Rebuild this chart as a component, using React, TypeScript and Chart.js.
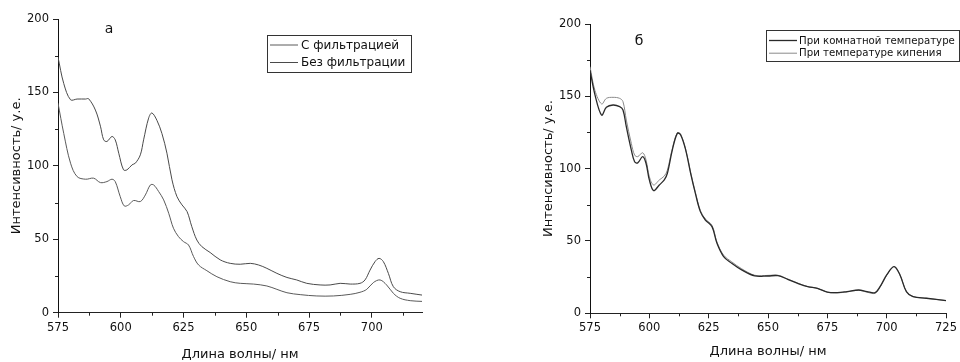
import React, { useEffect, useRef } from "react";
import { Chart, registerables } from "chart.js";

Chart.register(...registerables);

// ---------- Panel "а" data ----------
const wavelengthNoFilter = [575, 577.3, 580, 582.6, 586, 587.2, 589.9, 591.9, 593.2, 594.5, 596.5, 597.8, 599.2, 601.1, 602.5, 604.5, 605.8, 607.8, 609.1, 611.1, 612.4, 614.4, 616.4, 618.4, 620.4, 622.4, 624.4, 626.4, 628.3, 630.3, 632.3, 635.6, 639.6, 643.6, 647.6, 651.6, 654.9, 658.2, 662.2, 666.2, 670.1, 674.1, 679.4, 683.4, 687.4, 691.4, 695.3, 697.3, 699.3, 701.3, 702.9, 704.6, 706.6, 708.6, 711.3, 715.3, 720];
const intensityNoFilter = [174, 156, 145, 145.5, 145.5, 145.7, 138, 127, 117.7, 116.6, 120, 117.7, 108.6, 97.3, 97.3, 100.7, 101.8, 107.5, 117.7, 132.5, 136, 131, 122, 108.6, 90.5, 79, 73.4, 68.9, 58.6, 49.5, 45, 41, 36, 33.6, 33, 33.6, 32.5, 30.2, 26.8, 24, 22.3, 20, 18.9, 18.9, 20, 19.5, 20, 22.3, 29, 34.8, 37, 34.8, 26.8, 17.7, 14.3, 13.2, 12];

const wavelengthWithFilter = [575, 577.3, 580, 582.6, 586, 589.2, 591.9, 594.5, 596.5, 597.8, 599.8, 601.4, 603.1, 605.1, 607.8, 609.8, 611.8, 613.1, 615.1, 617.1, 619.1, 621, 623, 625, 627, 629, 631, 634.3, 638.3, 643.6, 647.6, 652.9, 658.2, 662.2, 666.2, 671.5, 678.1, 684.7, 691.4, 695.3, 698, 700.6, 703.3, 705.9, 708.6, 711.3, 715.3, 720];
const intensityWithFilter = [142.7, 122, 101.8, 92.7, 90.9, 91.6, 88.6, 89.3, 90.9, 89.3, 79, 72.7, 73.4, 76.4, 75.7, 80.2, 87, 87, 82.5, 76.8, 67.7, 57.5, 51.8, 48.4, 46.1, 38.2, 32.5, 28.6, 24.5, 21.1, 20, 19.5, 18.2, 15.9, 13.6, 12.3, 11.4, 11.4, 12.5, 13.9, 15.9, 20.5, 22.3, 18.9, 13.2, 9.8, 8.2, 7.7];

// ---------- Panel "б" data ----------
const wavelengthB = [575, 577.1, 579.9, 581.9, 584.7, 587.5, 588.9, 590.3, 592.4, 593.8, 595.1, 597.2, 598.6, 600, 601.8, 604.2, 606.3, 607.6, 609.7, 611.8, 613.2, 615.3, 617.4, 619.4, 621.5, 623.6, 626.4, 628.5, 631.3, 634.7, 638.9, 644.4, 650, 654.2, 658.3, 662.5, 666.7, 670.8, 675, 679.2, 683.3, 688.2, 691.7, 695.1, 697.2, 700, 703.1, 705.6, 708.3, 711.1, 716.7, 725];
const intensityRoom = [168, 151, 137, 142.4, 144, 142.9, 140.6, 129, 113, 104.8, 104, 108.3, 103.7, 92.2, 84.8, 88.7, 92.2, 96.8, 113, 124.4, 123.3, 113, 96.8, 82.9, 70.3, 64.5, 59.9, 48.4, 39.2, 34.6, 30, 25.8, 25.8, 26, 23.5, 20.7, 18.4, 17.3, 14.7, 14.3, 15, 16.1, 15, 14.3, 18.4, 26.5, 32.3, 26.5, 15, 11.5, 10.4, 8.8];
const intensityBoiling = [170.5, 154, 144.7, 148.6, 149.3, 148.6, 146.3, 133.6, 117.5, 109.4, 108.3, 111, 106, 94.5, 88.7, 92.2, 94.9, 99, 114, 124.9, 123.8, 113.5, 97.5, 83.5, 71, 65.2, 60.8, 49.2, 40.2, 35.6, 30.8, 26.3, 26.2, 26.3, 23.7, 20.9, 18.5, 17.3, 14.6, 14.1, 14.8, 15.9, 14.6, 13.8, 18, 26.3, 32.4, 26.6, 15.1, 11.6, 10.4, 8.8];

const xTitle = "Длина волны/ нм";
const yTitle = "Интенсивность/ у.е.";

const FONT = "'DejaVu Sans', 'Liberation Sans', Arial, sans-serif";

const toPoints = (xs: number[], ys: number[]) => xs.map((x, i) => ({ x, y: ys[i] }));

const decorPlugin = {
  id: "decor",
  afterDraw(chart: any, _args: any, opts: any) {
    const ctx = chart.ctx as CanvasRenderingContext2D;
    const xs = chart.scales.x;
    const ys = chart.scales.y;
    ctx.save();
    // minor ticks
    ctx.strokeStyle = "#222";
    ctx.lineWidth = 1;
    for (let v = xs.min + opts.xStep / 2; v < xs.max; v += opts.xStep) {
      const px = Math.round(xs.getPixelForValue(v)) + 0.5;
      ctx.beginPath();
      ctx.moveTo(px, ys.bottom);
      ctx.lineTo(px, ys.bottom + 3);
      ctx.stroke();
    }
    for (let v = ys.min + opts.yStep / 2; v < ys.max; v += opts.yStep) {
      const py = Math.round(ys.getPixelForValue(v)) + 0.5;
      ctx.beginPath();
      ctx.moveTo(xs.left, py);
      ctx.lineTo(xs.left - 3, py);
      ctx.stroke();
    }
    // legend box
    const L = opts.legend;
    ctx.strokeStyle = "#333";
    ctx.lineWidth = 1;
    ctx.strokeRect(L.x + 0.5, L.y + 0.5, L.w, L.h);
    ctx.font = `${L.fontSize}px ${FONT}`;
    ctx.textBaseline = "middle";
    ctx.textAlign = "left";
    chart.data.datasets.forEach((ds: any, i: number) => {
      const cy = L.y + L.firstRow + i * L.rowH;
      ctx.strokeStyle = ds.borderColor;
      ctx.lineWidth = ds.borderWidth;
      ctx.beginPath();
      ctx.moveTo(L.x + 3, cy);
      ctx.lineTo(L.x + 3 + L.lineLen, cy);
      ctx.stroke();
      ctx.fillStyle = "#111";
      ctx.fillText(ds.label, L.x + L.textX, cy + 0.5);
    });
    // panel label
    ctx.font = `${opts.tagSize}px ${FONT}`;
    ctx.textAlign = "center";
    ctx.fillStyle = "#111";
    ctx.fillText(opts.tag, opts.tagX, opts.tagY);
    ctx.restore();
  },
};

type PanelProps = {
  datasets: any[];
  xMax: number;
  padding: { left: number; top: number; right: number; bottom: number };
  xHeight: number;
  xTitlePad: number;
  decor: any;
  left: number;
};

function Panel({ datasets, xMax, padding, xHeight, xTitlePad, decor, left }: PanelProps) {
  const ref = useRef<HTMLCanvasElement>(null);
  useEffect(() => {
    if (!ref.current) return;
    const tickFont = { family: FONT, size: 11.5 };
    const titleFont = { family: FONT, size: 13 };
    const chart = new Chart(ref.current, {
      type: "line",
      data: { datasets },
      plugins: [decorPlugin],
      options: {
        animation: false,
        responsive: false,
        devicePixelRatio: 1,
        layout: { padding },
        elements: { point: { radius: 0 }, line: { tension: 0.35 } },
        plugins: {
          legend: { display: false },
          tooltip: { enabled: false },
          decor,
        } as any,
        scales: {
          x: {
            type: "linear",
            min: 575,
            max: xMax,
            afterBuildTicks: (s: any) => {
              s.ticks = s.ticks.filter((t: any) => (t.value - 575) % 25 === 0);
            },
            afterFit: (s: any) => {
              s.height = xHeight;
            },
            ticks: { stepSize: 25, font: tickFont, color: "#111", padding: 3, maxRotation: 0 },
            grid: { drawOnChartArea: false, tickLength: 5, color: "#222", tickColor: "#222" },
            border: { display: true, color: "#222", width: 1 },
            title: { display: true, text: xTitle, font: titleFont, color: "#111", padding: { top: 0, bottom: xTitlePad } },
          },
          y: {
            type: "linear",
            min: 0,
            max: 200,
            afterFit: (s: any) => {
              s.width = 49;
            },
            ticks: { stepSize: 50, font: tickFont, color: "#111", padding: 4 },
            grid: { drawOnChartArea: false, tickLength: 5, color: "#222", tickColor: "#222" },
            border: { display: true, color: "#111", width: 1 },
            title: { display: true, text: yTitle, font: titleFont, color: "#111", padding: 0 },
          },
        },
      } as any,
    });
    return () => chart.destroy();
  }, []);
  return (
    <canvas
      ref={ref}
      width={480}
      height={362}
      style={{ position: "absolute", left, top: 0, width: 480, height: 362 }}
    />
  );
}

export default function App() {
  const datasetsA = [
    {
      label: "С фильтрацией",
      data: toPoints(wavelengthWithFilter, intensityWithFilter),
      borderColor: "#5a5a5a",
      borderWidth: 1,
    },
    {
      label: "Без фильтрации",
      data: toPoints(wavelengthNoFilter, intensityNoFilter),
      borderColor: "#4a4a4a",
      borderWidth: 1,
    },
  ];
  const datasetsB = [
    {
      label: "При комнатной температуре",
      data: toPoints(wavelengthB, intensityRoom),
      borderColor: "#2a2a2a",
      borderWidth: 1.3,
    },
    {
      label: "При температуре кипения",
      data: toPoints(wavelengthB, intensityBoiling),
      borderColor: "#8a8a8a",
      borderWidth: 1,
    },
  ];
  return (
    <div style={{ position: "fixed", left: 0, top: 0, width: 960, height: 362, background: "#fff", overflow: "hidden" }}>
      <Panel
        left={0}
        datasets={datasetsA}
        xMax={720}
        padding={{ left: 9, top: 19, right: 58, bottom: 0 }}
        xHeight={49.3}
        xTitlePad={0}
        decor={{
          xStep: 25,
          yStep: 50,
          tag: "а",
          tagX: 109,
          tagY: 29,
          tagSize: 14,
          legend: { x: 267, y: 35, w: 144, h: 37, firstRow: 10, rowH: 17.5, lineLen: 28, textX: 34, fontSize: 12 },
        }}
      />
      <Panel
        left={480}
        datasets={datasetsB}
        xMax={725}
        padding={{ left: 61, top: 24, right: 10, bottom: 0 }}
        xHeight={48.7}
        xTitlePad={3}
        decor={{
          xStep: 25,
          yStep: 50,
          tag: "б",
          tagX: 159,
          tagY: 41,
          tagSize: 14,
          legend: { x: 286, y: 30, w: 193, h: 31, firstRow: 10.5, rowH: 12.7, lineLen: 28, textX: 33, fontSize: 10.2 },
        }}
      />
    </div>
  );
}
